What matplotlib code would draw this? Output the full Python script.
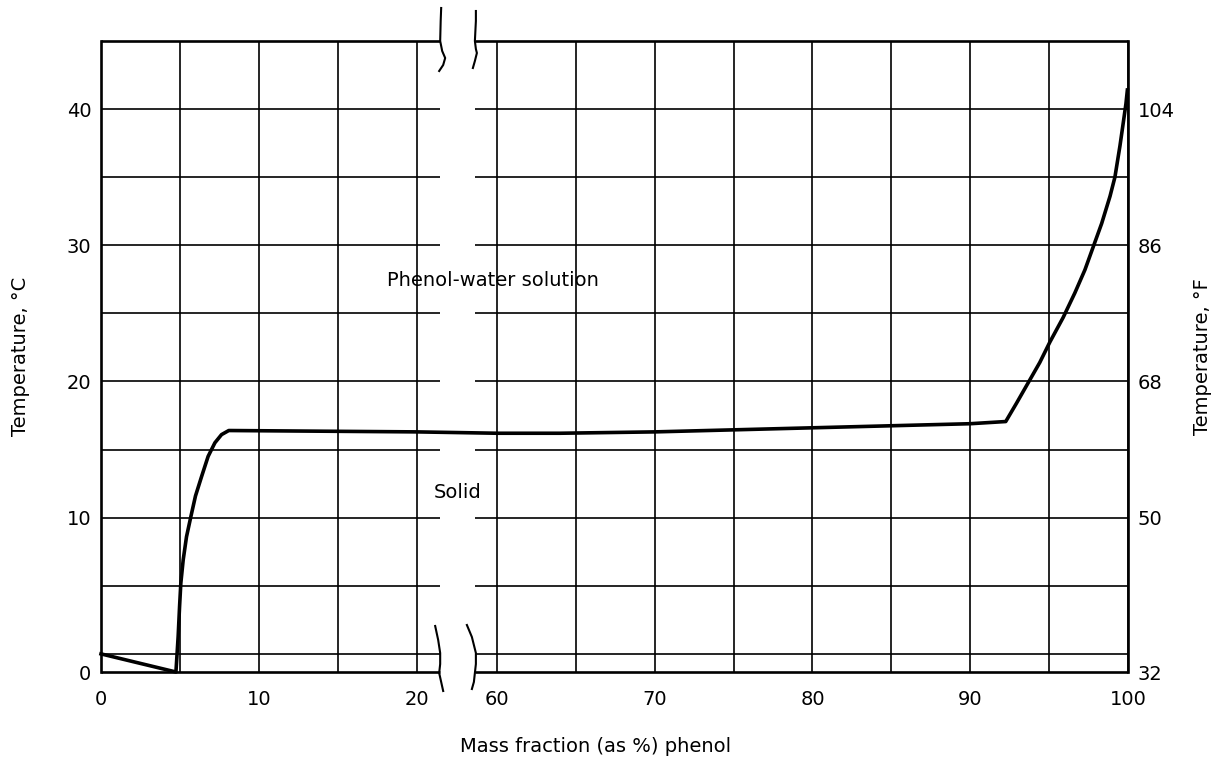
import numpy as np
import matplotlib
matplotlib.use('Agg')
import matplotlib.pyplot as plt
from matplotlib.lines import Line2D
from matplotlib.transforms import IdentityTransform

# phase boundary, phenol-water
phenol = [0, 4.75, 4.89, 4.98, 5.06, 5.21, 5.42, 5.70, 5.99, 6.37, 6.79, 7.22,
          7.64, 8.10, 20, 40, 60, 64, 70, 80, 90, 92.25, 92.93, 93.67, 94.41,
          95.05, 95.89, 96.63, 97.27, 97.80, 98.33, 98.86, 99.17, 99.49, 99.70,
          99.87, 99.96]
temp_c = [0.0, -1.33, 1.27, 3.47, 5.19, 6.9, 8.6, 10.1, 11.6, 13.0, 14.5, 15.5,
          16.1, 16.4, 16.3, 16.25, 16.2, 16.2, 16.3, 16.6, 16.9, 17.06, 18.4,
          19.9, 21.4, 22.9, 24.7, 26.5, 28.2, 29.9, 31.6, 33.6, 35.0, 37.3, 39.0,
          40.4, 41.4]

left_ticks = [0, 10, 20]
right_ticks = [60, 70, 80, 90, 100]
x_grid = [0, 5, 10, 15, 20, 60, 65, 70, 75, 80, 85, 90, 95, 100]
y_grid = [0, 5, 10, 15, 20, 25, 30, 35, 40]
c_labels = ['0', '10', '20', '30', '40']
f_labels = ['32', '50', '68', '86', '104']

Y_MIN, Y_MAX = -1.33, 45
BRK_A, BRK_B, GAP = 21.5, 58.6, 2.2
SHIFT = BRK_B - BRK_A - GAP


def fwd(x):
    x = np.asarray(x, dtype=float)
    mid = BRK_A + (x - BRK_A) * GAP / (BRK_B - BRK_A)
    return np.where(x <= BRK_A, x, np.where(x >= BRK_B, x - SHIFT, mid))


def inv(u):
    u = np.asarray(u, dtype=float)
    mid = BRK_A + (u - BRK_A) * (BRK_B - BRK_A) / GAP
    return np.where(u <= BRK_A, u, np.where(u >= BRK_A + GAP, u + SHIFT, mid))


plt.rcParams['font.family'] = ['DejaVu Sans']
fig = plt.figure(figsize=(12.15, 7.62), dpi=100)
ax = fig.add_axes([101 / 1215, 90 / 762, 1027 / 1215, 631 / 762])
ax.set_xscale('function', functions=(fwd, inv))
ax.set_xlim(0, 100)
ax.set_ylim(Y_MIN, Y_MAX)

for s in ['top', 'bottom']:
    ax.spines[s].set_visible(False)
for s in ['left', 'right']:
    ax.spines[s].set_linewidth(1.9)

grid_kw = dict(color='black', lw=1.2, zorder=1)
for xv in x_grid:
    ax.axvline(xv, **grid_kw)
for yv in y_grid:
    ax.hlines(yv, 0, BRK_A, **grid_kw)
    ax.hlines(yv, BRK_B, 100, **grid_kw)
for yv in [Y_MIN, Y_MAX]:
    ax.hlines(yv, 0, BRK_A, color='black', lw=1.9, clip_on=False, zorder=3)
    ax.hlines(yv, BRK_B, 100, color='black', lw=1.9, clip_on=False, zorder=3)

ax.plot(phenol, temp_c, color='black', lw=2.6, clip_on=False, zorder=4,
        solid_joinstyle='round')

ax.set_xticks(left_ticks + right_ticks)
ax.set_xticklabels([str(t) for t in left_ticks + right_ticks])
ax.set_yticks([Y_MIN, 10, 20, 30, 40])
ax.set_yticklabels(c_labels)
ax.tick_params(length=0, labelsize=14, pad=7)
ax.tick_params(axis='x', pad=13)
ax.minorticks_off()

ax2 = ax.twinx()
ax2.set_ylim(Y_MIN, Y_MAX)
ax2.set_yticks([Y_MIN, 10, 20, 30, 40])
ax2.set_yticklabels(f_labels)
ax2.tick_params(length=0, labelsize=14, pad=7)
for s in ax2.spines.values():
    s.set_visible(False)

ax.set_xlabel('Mass fraction (as %) phenol', fontsize=14, va='center')
ax.xaxis.set_label_coords((596 - 101) / 1027, (672 - 746) / 631)
ax.set_ylabel('Temperature, °C', fontsize=14, va='center')
ax.yaxis.set_label_coords((21 - 101) / 1027, 0.5)
ax2.set_ylabel('Temperature, °F', fontsize=14, va='center')
ax2.yaxis.set_label_coords((1202 - 101) / 1027, 0.5)

ax.text(0.382, 0.621, 'Phenol-water solution', transform=ax.transAxes,
        fontsize=14, ha='center', va='center')
ax.text(0.347, 0.284, 'Solid', transform=ax.transAxes,
        fontsize=14, ha='center', va='center')

# break marks (pixel offsets relative to the break position on the axis)
fig.canvas.draw()
xa = ax.transData.transform((BRK_A, 0))[0]
xb = ax.transData.transform((BRK_B, 0))[0]
y_top = ax.transAxes.transform((0, 1))[1]
y_bot = ax.transAxes.transform((0, 0))[1]
marks = [
    (xa, y_top, [1, 0.5, 0, 2, 5, 3, -1], [33, 20, 0, -10, -17, -24, -30]),
    (xb, y_top, [1, 1, 0, 1, 2, 0, -2], [30, 20, 0, -8, -12, -20, -27]),
    (xa, y_bot, [-5, -2, 0, 0, -1, 1, 3], [46, 32, 19, 8, -1, -10, -19]),
    (xb, y_bot, [-8, -3, 1, 1, 0, -1, -3], [47, 35, 19, 8, -1, -10, -17]),
]
for x0, y0, dx, dy in marks:
    fig.add_artist(Line2D(x0 + np.array(dx), y0 + np.array(dy), color='black',
                          lw=1.5, transform=IdentityTransform()))

fig.savefig('out.png', dpi=100)
